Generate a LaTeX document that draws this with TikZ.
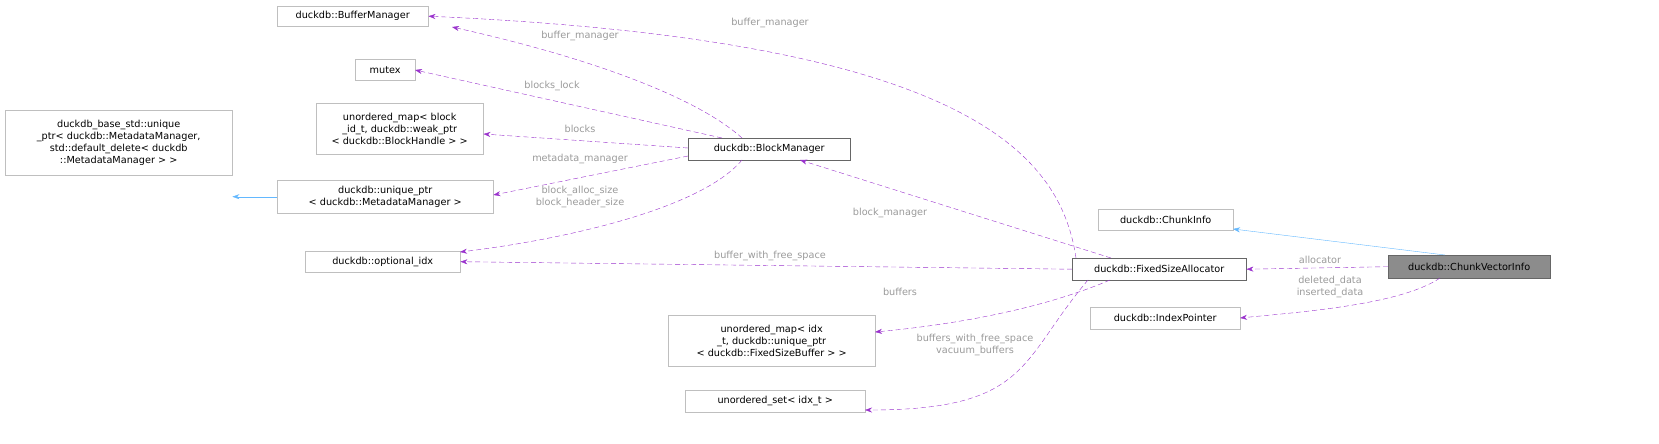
\documentclass[tikz,border=0pt]{standalone}
\usepackage{fontspec}
\setmainfont{DejaVu Sans}
\usetikzlibrary{arrows.meta}
\definecolor{edgep}{HTML}{9A32CD}
\definecolor{edgeb}{HTML}{63B8FF}
\definecolor{lbl}{HTML}{9A9A9A}
\begin{document}
\begin{tikzpicture}[x=1pt,y=-1pt,
  box/.style={draw=black!25,fill=white,inner sep=2pt,font=\fontsize{9.7}{12}\selectfont,align=center,anchor=north west},
  dbox/.style={box,draw=black!60},
  rel/.style={draw=edgep,dash pattern=on 5pt off 3pt,-{Stealth[length=7pt,width=5pt]}},
  inh/.style={draw=edgeb,-{Stealth[length=7pt,width=5pt]}},
  lab/.style={text=lbl,font=\fontsize{9.7}{12}\selectfont,align=center,inner sep=0pt}]
\useasboundingbox (0,0) rectangle (1659,444);
\node[box,minimum width=151,minimum height=20] (buf) at (277,6) {duckdb::BufferManager};
\node[box,minimum width=60,minimum height=21] (mut) at (355,59) {mutex};
\node[box,minimum width=167,minimum height=51] (umb) at (316,103) {unordered\_map< block\\\_id\_t, duckdb::weak\_ptr\\< duckdb::BlockHandle > >};
\node[dbox,minimum width=162,minimum height=22] (bm) at (688,138) {duckdb::BlockManager};
\node[box,minimum width=227,minimum height=65] (bstd) at (5,110) {duckdb\_base\_std::unique\\\_ptr< duckdb::MetadataManager,\\std::default\_delete< duckdb\\::MetadataManager > >};
\node[box,minimum width=216,minimum height=33] (uptr) at (277,180) {duckdb::unique\_ptr\\< duckdb::MetadataManager >};
\node[box,minimum width=155,minimum height=21] (opt) at (305,251) {duckdb::optional\_idx};
\node[box,minimum width=135,minimum height=21] (ci) at (1098,209) {duckdb::ChunkInfo};
\node[dbox,minimum width=174,minimum height=22] (fsa) at (1072,258) {duckdb::FixedSizeAllocator};
\node[box,draw=black!60,fill=black!45,minimum width=162,minimum height=23] (cvi) at (1388,255) {duckdb::ChunkVectorInfo};
\node[box,minimum width=150,minimum height=22] (ip) at (1090,307) {duckdb::IndexPointer};
\node[box,minimum width=207,minimum height=51] (umi) at (668,315) {unordered\_map< idx\\\_t, duckdb::unique\_ptr\\< duckdb::FixedSizeBuffer > >};
\node[box,minimum width=180,minimum height=22] (us) at (685,390) {unordered\_set< idx\_t >};

\coordinate (c1) at (1076,258); \coordinate (c2) at (1111,258); \coordinate (c3) at (1110,280); \coordinate (c4) at (1088,280);
\coordinate (b1) at (742,138); \coordinate (b2) at (722,138); \coordinate (b3) at (742,160);
\coordinate (v1) at (1440,278); \coordinate (v2) at (1445,255);

\draw[rel] (c1) .. controls (1060,150) and (960,40) .. (buf.east);
\draw[rel] (b1) .. controls (700,100) and (600,60) .. (452,27);
\draw[rel] (b2) -- (415,70);
\draw[rel] (bm.west|-0,148) -- (umb.east|-0,134);
\draw[rel] (bm.west|-0,156) -- (uptr.east|-0,195);
\draw[rel] (b3) .. controls (700,210) and (560,240) .. (460,252);
\draw[rel] (c2) -- (800,160);
\draw[rel] (fsa.west) -- (opt.east);
\draw[rel] (c3) .. controls (1040,310) and (950,325) .. (875,332);
\draw[rel] (c4) .. controls (1020,360) and (1030,410) .. (865,410);
\draw[rel] (cvi.west) -- (fsa.east);
\draw[rel] (v1) .. controls (1400,305) and (1300,312) .. (1240,318);
\draw[inh] (v2) -- (1233,229);
\draw[inh] (uptr.west) -- (bstd.east|-uptr.west);

\node[lab] (l1) at (770,23) {buffer\_manager};
\node[lab] (l2) at (580,36) {buffer\_manager};
\node[lab] (l3) at (552,86) {blocks\_lock};
\node[lab] (l4) at (580,129) {blocks};
\node[lab] (l5) at (580,159) {metadata\_manager};
\node[lab] (l6) at (580,197) {block\_alloc\_size\\block\_header\_size};
\node[lab] (l7) at (890,213) {block\_manager};
\node[lab] (l8) at (770,256) {buffer\_with\_free\_space};
\node[lab] (l9) at (900,292) {buffers};
\node[lab] (l10) at (975,345) {buffers\_with\_free\_space\\vacuum\_buffers};
\node[lab] (l11) at (1320,260) {allocator};
\node[lab] (l12) at (1330,287) {deleted\_data\\inserted\_data};
\end{tikzpicture}
\end{document}
